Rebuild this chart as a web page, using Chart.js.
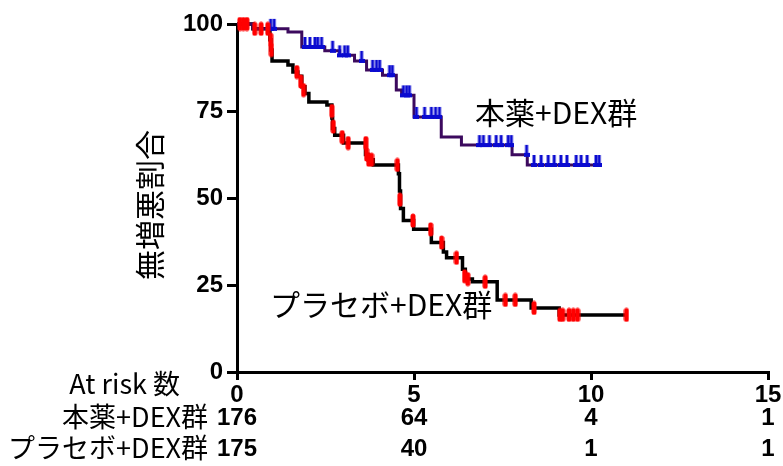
<!DOCTYPE html>
<html>
<head>
<meta charset="utf-8">
<script src="https://cdn.jsdelivr.net/npm/chart.js@4/dist/chart.umd.min.js"></script>
<style>
html,body{margin:0;padding:0;background:#fff;}
#wrap{width:783px;height:466px;position:relative;}
</style>
</head>
<body>
<div id="wrap"><canvas id="c" width="783" height="466"></canvas></div>
<script>
// ---- data (time in arbitrary units, survival in %) ----
const xTicks = [0, 5, 10, 15];
const yTicks = [0, 25, 50, 75, 100];
const groupNames = ['本薬+DEX群', 'プラセボ+DEX群'];
const atRiskExp = [176, 64, 4, 1];
const atRiskPla = [175, 40, 1, 1];

// 本薬+DEX群 step curve
const expT = [0, 0.45, 1.44, 1.83, 2.48, 2.9, 3.32, 3.66, 4.11, 4.5, 4.65, 5.0, 5.77, 6.34, 7.77, 8.2, 10.28];
const expS = [100, 98.6, 97.7, 93.4, 92.3, 91.0, 89.4, 86.8, 85.3, 81.0, 79.5, 73.3, 67.5, 65.2, 62.4, 59.5, 59.5];
const expCensT = [0.95, 1.05, 1.92, 2.06, 2.2, 2.28, 2.39, 2.7, 2.9, 3.04, 3.13, 3.52, 3.83, 3.94, 4.03, 4.31, 4.39, 4.7, 4.79, 4.87, 5.07, 5.3, 5.49, 5.61, 5.72, 6.85, 6.96, 7.13, 7.32, 7.46, 7.66, 7.75, 8.18, 8.39, 8.59, 8.79, 8.96, 9.15, 9.32, 9.58, 9.72, 9.89, 10.14, 10.23];
const expCensS = [98.6, 98.6, 93.4, 93.4, 93.4, 93.4, 93.4, 92.3, 91, 91, 91, 89.4, 86.8, 86.8, 86.8, 85.3, 85.3, 79.5, 79.5, 79.5, 73.3, 73.3, 73.3, 73.3, 73.3, 65.2, 65.2, 65.2, 65.2, 65.2, 65.2, 65.2, 62.4, 59.5, 59.5, 59.5, 59.5, 59.5, 59.5, 59.5, 59.5, 59.5, 59.5, 59.5];

// プラセボ+DEX群 step curve
const plaT = [0, 0.45, 0.93, 0.96, 0.99, 1.44, 1.58, 1.72, 1.83, 1.92, 2.03, 2.54, 2.68, 2.7, 2.76, 3.01, 3.63, 3.7, 3.85, 4.56, 4.59, 4.62, 4.7, 4.99, 5.49, 5.83, 5.92, 6.37, 6.45, 6.65, 7.35, 8.31, 9.1, 11.01];
const plaS = [100, 98.6, 95.5, 92.5, 89.4, 88.2, 86.2, 85, 82, 80, 77.6, 76.7, 73, 70, 68, 65.8, 62.5, 61, 59.5, 57, 52, 47, 43.5, 41, 37.2, 34.5, 32.8, 29.5, 26.7, 25.9, 20.7, 18.4, 16.4, 16.4];
const plaCensT = [0.08, 0.18, 0.28, 0.5, 0.68, 0.87, 0.95, 0.97, 1.69, 1.8, 1.88, 2.68, 2.72, 2.97, 3.14, 3.64, 3.66, 3.72, 3.8, 4.53, 4.6, 4.97, 5.47, 5.78, 6.2, 6.43, 6.52, 7.01, 7.58, 7.86, 8.39, 9.12, 9.2, 9.38, 9.5, 9.62, 11.0];
const plaCensS = [100, 100, 100, 98.6, 98.6, 98.6, 95.5, 92.5, 86.2, 83.5, 81, 75, 70.5, 67.5, 65.8, 65.8, 62.5, 61, 61, 59.5, 49.5, 43.5, 41, 37.2, 32.8, 27.5, 26.7, 25.9, 20.7, 20.7, 18.4, 16.4, 16.4, 16.4, 16.4, 16.4, 16.4];

// ---- marker images ----
function blueTick(){
  const c = document.createElement('canvas'); c.width = 6; c.height = 22;
  const g = c.getContext('2d'); g.fillStyle = '#0a0ad0';
  g.fillRect(1.5, 1, 3, 11); g.fillRect(0, 9, 6, 4);
  return c;
}
function redMark(){
  const c = document.createElement('canvas'); c.width = 6; c.height = 15;
  const g = c.getContext('2d'); g.fillStyle = '#ff0000';
  g.beginPath();
  g.moveTo(0.5, 3); g.arc(3, 3, 2.5, Math.PI, 0); g.lineTo(5.5, 12); g.arc(3, 12, 2.5, 0, Math.PI); g.closePath();
  g.fill();
  return c;
}
const pts = (t, s) => t.map((v, i) => ({x: v, y: s[i]}));

const NUM_FONT = 'bold 24px "Liberation Sans", Arial, sans-serif';
const JP = '"Noto Sans CJK JP", "Noto Sans", sans-serif';

const textPlugin = {
  id: 'texts',
  afterDraw(chart){
    const ctx = chart.ctx, xs = chart.scales.x;
    ctx.save();
    ctx.fillStyle = '#000';
    // y title
    ctx.save();
    ctx.translate(150, 205);
    ctx.rotate(-Math.PI/2);
    ctx.font = '30px ' + JP;
    ctx.textAlign = 'center'; ctx.textBaseline = 'middle';
    ctx.fillText('無増悪割合', 0, 0);
    ctx.restore();
    // in-plot labels
    ctx.font = '30px ' + JP;
    ctx.textAlign = 'left'; ctx.textBaseline = 'middle';
    ctx.fillText(groupNames[0], 475, 113);
    ctx.fillText(groupNames[1], 270, 305);
    // at-risk table
    ctx.font = '27px ' + JP;
    ctx.textAlign = 'right';
    ctx.fillText('At risk 数', 180, 384);
    ctx.fillText(groupNames[0], 208, 417);
    ctx.fillText(groupNames[1], 208, 448);
    ctx.font = NUM_FONT;
    ctx.textAlign = 'center';
    xTicks.forEach((t, i) => {
      const px = xs.getPixelForValue(t);
      ctx.fillText(String(atRiskExp[i]), px, 418);
      ctx.fillText(String(atRiskPla[i]), px, 449);
    });
    ctx.restore();
  }
};

new Chart(document.getElementById('c'), {
  data: {
    datasets: [
      {type: 'scatter', data: pts(plaCensT, plaCensS), pointStyle: redMark(), pointRadius: 5, showLine: false, order: 0, clip: false},
      {type: 'scatter', data: pts(expCensT, expCensS), pointStyle: blueTick(), pointRadius: 5, showLine: false, order: 1, clip: false},
      {type: 'line', data: pts(expT, expS), stepped: 'before', borderColor: '#3c0a5e', borderWidth: 3, pointRadius: 0, fill: false, order: 2, clip: false},
      {type: 'line', data: pts(plaT, plaS), stepped: 'before', borderColor: '#000000', borderWidth: 3.5, pointRadius: 0, fill: false, order: 3, clip: false}
    ]
  },
  options: {
    responsive: false,
    animation: false,
    events: [],
    layout: {padding: {left: 0, right: 15, top: 24, bottom: 0}},
    plugins: {legend: {display: false}, tooltip: {enabled: false}},
    scales: {
      x: {
        type: 'linear', min: 0, max: 15,
        afterBuildTicks: s => { s.ticks = xTicks.map(v => ({value: v})); },
        afterFit: s => { s.height = 94; },
        grid: {display: true, drawOnChartArea: false, drawTicks: true, tickLength: 8, color: '#000', lineWidth: 3},
        border: {display: true, color: '#000', width: 3},
        ticks: {color: '#000', font: {family: '"Liberation Sans", Arial, sans-serif', size: 24, weight: 'bold'}, padding: 1, maxRotation: 0}
      },
      y: {
        type: 'linear', min: 0, max: 100,
        afterBuildTicks: s => { s.ticks = yTicks.map(v => ({value: v})); },
        afterFit: s => { s.width = 237; },
        grid: {display: true, drawOnChartArea: false, drawTicks: true, tickLength: 10, color: '#000', lineWidth: 3},
        border: {display: true, color: '#000', width: 3},
        ticks: {color: '#000', font: {family: '"Liberation Sans", Arial, sans-serif', size: 24, weight: 'bold'}, padding: 4}
      }
    }
  },
  plugins: [textPlugin]
});
</script>
</body>
</html>
